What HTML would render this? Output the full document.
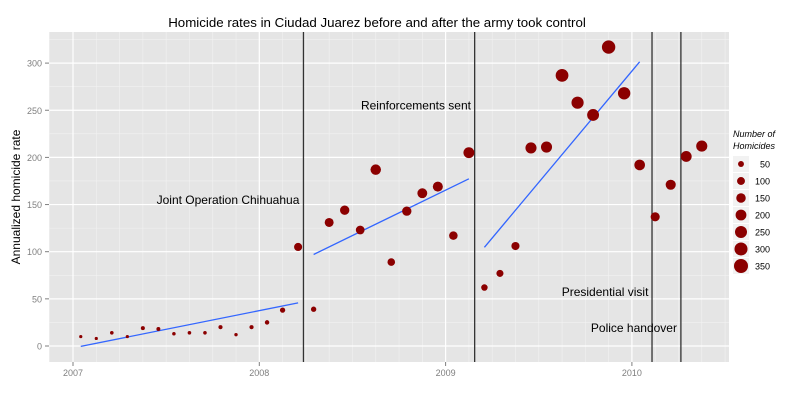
<!DOCTYPE html>
<html><head><meta charset="utf-8"><style>
body{margin:0;background:#fff;}
svg{font-family:"Liberation Sans",sans-serif;display:block;}
</style></head><body>
<svg id="chart" width="800" height="400" xmlns="http://www.w3.org/2000/svg">
<text x="377" y="27" text-anchor="middle" font-size="13.3" fill="#000">Homicide rates in Ciudad Juarez before and after the army took control</text>
<rect x="49" y="32" width="680" height="330" fill="#E5E5E5"/>
<g id="grid"></g>
<g id="axes"></g>
<g id="events"></g>
<g id="fits"></g>
<g id="points"></g>
<text transform="translate(20,197) rotate(-90)" text-anchor="middle" font-size="12">Annualized homicide rate</text>
<g id="legend">
<text x="733" y="137" font-size="9" font-style="italic">Number of</text>
<text x="733" y="149" font-size="9" font-style="italic">Homicides</text>
</g>
</svg>
<script>
const rates=[10,8,14,10,19,18,13,14,14,20,12,20,25,38,105,39,131,144,123,187,89,143,162,169,117,205,62,77,106,210,211,287,258,245,317,268,192,137,171,201,212];
const segments=[[0,14],[15,25],[26,36]];
const yTicks=[0,50,100,150,200,250,300];
const xTicks=[2007,2008,2009,2010];
const eventDates=[2008.237,2009.156,2010.108,2010.263];
const eventLabels=["Joint Operation Chihuahua","Reinforcements sent","Presidential visit","Police handover"];
const eventLabelY=[155,255,57,19];
const eventLabelX=[2007.832,2008.841,2009.856,2010.011];
const legendValues=[50,100,150,200,250,300,350];

const NS="http://www.w3.org/2000/svg";
const xs=y=>73+(y-2007)*186.3;
const ys=v=>346-v*0.943;
const monthX=i=>xs(2007+(i+0.5)/12);
const rs=v=>{const a=Math.sqrt(10),b=Math.sqrt(350);return 1.6+(Math.sqrt(Math.max(v,10))-a)/(b-a)*5.4;};
function mk(tag,attrs,parent){const e=document.createElementNS(NS,tag);for(const k in attrs)e.setAttribute(k,attrs[k]);document.getElementById(parent).appendChild(e);return e;}

for(let v=25;v<=325;v+=50){const l=mk('line',{x1:49,x2:729,y1:ys(v),y2:ys(v),stroke:'#F2F2F2','stroke-width':0.6},'grid');

}
for(let t=2007-0.125*2;t<2010.6;t+=0.125){const x=xs(t);if(x<49||x>729)continue;const l=mk('line',{x1:x,x2:x,y1:32,y2:362,stroke:'#F2F2F2','stroke-width':0.6},'grid');

}
yTicks.forEach(v=>{const l=mk('line',{x1:49,x2:729,y1:ys(v),y2:ys(v),stroke:'#fff','stroke-width':1.2},'grid');


const tk=mk('line',{x1:45,x2:49,y1:ys(v),y2:ys(v),stroke:'#7f7f7f'},'axes');


const t=mk('text',{x:42,y:ys(v)+3.5,'text-anchor':'end','font-size':9,fill:'#7f7f7f'},'axes');t.textContent=v;

});
xTicks.forEach(y=>{const x=xs(y);const l=mk('line',{x1:x,x2:x,y1:32,y2:362,stroke:'#fff','stroke-width':1.2},'grid');


const tk=mk('line',{x1:x,x2:x,y1:362,y2:366,stroke:'#7f7f7f'},'axes');


const t=mk('text',{x:x,y:376,'text-anchor':'middle','font-size':9,fill:'#7f7f7f'},'axes');t.textContent=y;

});
eventDates.forEach((d,i)=>{const l=mk('line',{x1:xs(d),x2:xs(d),y1:32,y2:362,stroke:'#333','stroke-width':1.3},'events');


const t=mk('text',{x:xs(eventLabelX[i]),y:ys(eventLabelY[i])+4,'text-anchor':'middle','font-size':12},'events');t.textContent=eventLabels[i];

});
segments.forEach(([a,b])=>{let n=0,sx=0,sy=0,sxx=0,sxy=0;for(let i=a;i<=b;i++){n++;sx+=i;sy+=rates[i];sxx+=i*i;sxy+=i*rates[i];}
const m=(n*sxy-sx*sy)/(n*sxx-sx*sx),c=(sy-m*sx)/n;
const l=mk('line',{x1:monthX(a),y1:ys(m*a+c),x2:monthX(b),y2:ys(m*b+c),stroke:'#3366FF','stroke-width':1.3},'fits');

});
rates.forEach((v,i)=>{const c=mk('circle',{cx:monthX(i),cy:ys(v),r:rs(v),fill:'#8B0000'},'points');

});
legendValues.forEach((v,i)=>{const cy=164+i*17;
const bg=mk('rect',{x:733,y:cy-8,width:16,height:16,fill:'#F2F2F2'},'legend');


const c=mk('circle',{cx:741,cy:cy,r:rs(v),fill:'#8B0000'},'legend');


const t=mk('text',{x:770,y:cy+3.5,'text-anchor':'end','font-size':9},'legend');t.textContent=v;

});
</script>
</body></html>
